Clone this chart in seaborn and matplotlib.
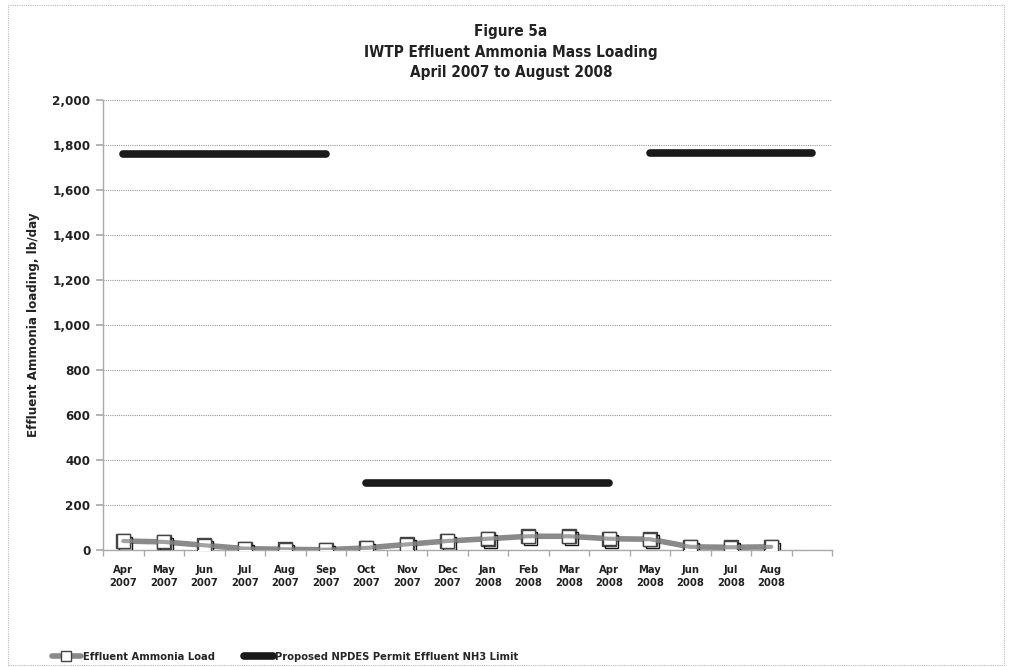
import matplotlib
matplotlib.use("Agg")
import matplotlib.pyplot as plt
import matplotlib.patheffects as pe
from matplotlib.patches import Rectangle
import numpy as np
import pandas as pd
import seaborn as sns

# ---- data ----
months = ["Apr\n2007", "May\n2007", "Jun\n2007", "Jul\n2007", "Aug\n2007", "Sep\n2007",
          "Oct\n2007", "Nov\n2007", "Dec\n2007", "Jan\n2008", "Feb\n2008", "Mar\n2008",
          "Apr\n2008", "May\n2008", "Jun\n2008", "Jul\n2008", "Aug\n2008", ""]
effluent_load = [40, 36, 21, 6, 3, 1, 9, 25, 40, 50, 61, 61, 50, 48, 14, 12, 14, np.nan]
permit_limit = [1762, 1762, 1762, 1762, 1762, 1762,
                300, 300, 300, 300, 300, 300, 300,
                1764, 1764, 1764, 1764, 1764]
yticks = [0, 200, 400, 600, 800, 1000, 1200, 1400, 1600, 1800, 2000]

title_text = "Figure 5a\nIWTP Effluent Ammonia Mass Loading\nApril 2007 to August 2008"
ylabel_text = "Effluent Ammonia loading, lb/day"
series_names = ["Effluent Ammonia Load", "Proposed NPDES Permit Effluent NH3 Limit"]

sns.set_theme(style="white")
FONT = ["Liberation Sans Narrow", "DejaVu Sans"]
plt.rcParams["font.family"] = FONT
plt.rcParams["font.stretch"] = "condensed"

fig = plt.figure(figsize=(10.1, 6.67), dpi=100)
ax = fig.add_axes([103 / 1010, 1 - 550 / 667, (832 - 103) / 1010, 450 / 667])

x = np.arange(len(months))
df = pd.DataFrame({"x": x, "load": effluent_load, "limit": permit_limit})

# permit limit: one segment per run of constant value
runs = (df["limit"] != df["limit"].shift()).cumsum()
first = True
for _, seg in df.groupby(runs):
    sns.lineplot(data=seg, x="x", y="limit", ax=ax, color="#1a1a1a", lw=5.5,
                 solid_capstyle="round", label=series_names[1] if first else None,
                 legend=False, zorder=3)
    first = False

# effluent load: gray line with square markers
mkw = dict(marker="s", markersize=9.5, markerfacecolor="white",
           markeredgecolor="#444444", markeredgewidth=1.0)
sns.lineplot(data=df, x="x", y="load", ax=ax, color="#8a8a8a", lw=4,
             label=series_names[0], legend=False, zorder=4, **mkw)
# markers again (no line) with a drop shadow
sns.lineplot(data=df, x="x", y="load", ax=ax, color="#8a8a8a", linestyle="none",
             zorder=5, legend=False,
             path_effects=[pe.SimpleLineShadow(offset=(1.8, -1.8), shadow_color="black",
                                               alpha=0.9), pe.Normal()], **mkw)
# redraw the line segments over the markers' interiors like the original
sns.lineplot(data=df, x="x", y="load", ax=ax, color="#8a8a8a", lw=3, alpha=0.8,
             zorder=6, legend=False)

ax.set_xlim(-0.5, len(months) - 0.5)
ax.set_ylim(0, 2000)
ax.set_yticks(yticks)
ax.set_yticklabels([f"{v:,}" for v in yticks], fontsize=9.5, fontweight="bold",
                   color="#222222")
ax.set_xticks(x)
ax.set_xticklabels(months, fontsize=8, fontweight="bold", color="#222222",
                   linespacing=1.4)
ax.tick_params(axis="x", length=0, pad=11)
ax.tick_params(axis="y", length=5, color="#aaaaaa", left=True, pad=4)
# category boundary tick marks
ax.set_xticks(np.arange(-0.5, len(months), 1), minor=True)
ax.tick_params(axis="x", which="minor", length=4, color="#aaaaaa", bottom=True)

ax.grid(axis="y", color="#999999", linestyle=(0, (1, 1)), lw=0.8)
ax.set_axisbelow(True)
for s in ["top", "right"]:
    ax.spines[s].set_visible(False)
for s in ["left", "bottom"]:
    ax.spines[s].set_color("#aaaaaa")
    ax.spines[s].set_linewidth(1)

ax.set_xlabel("")
ax.set_ylabel(ylabel_text, fontsize=9.5, fontweight="bold", color="#222222")
ax.yaxis.set_label_coords(-0.087, 0.5)

fig.text(511 / 1010, 1 - 52 / 667, title_text, ha="center", va="center",
         fontsize=11, fontweight="bold", color="#222222", linespacing=1.45)

handles, labels = ax.get_legend_handles_labels()
order = [labels.index(n) for n in series_names]
fig.legend([handles[i] for i in order], [labels[i] for i in order],
           loc="center left", bbox_to_anchor=(42 / 1010, 1 - 657 / 667), ncol=2,
           frameon=False, handlelength=2.6, handletextpad=0.2, markerscale=0.8,
           columnspacing=2.6, prop={"weight": "bold", "size": 8, "family": FONT,
                                    "stretch": "condensed"})

fig.add_artist(Rectangle((8 / 1010, 2 / 667), 996 / 1010, 660 / 667,
                         transform=fig.transFigure, fill=False, edgecolor="#bbbbbb",
                         linestyle=(0, (1, 1)), lw=0.8))

fig.savefig("out.png", dpi=100)
